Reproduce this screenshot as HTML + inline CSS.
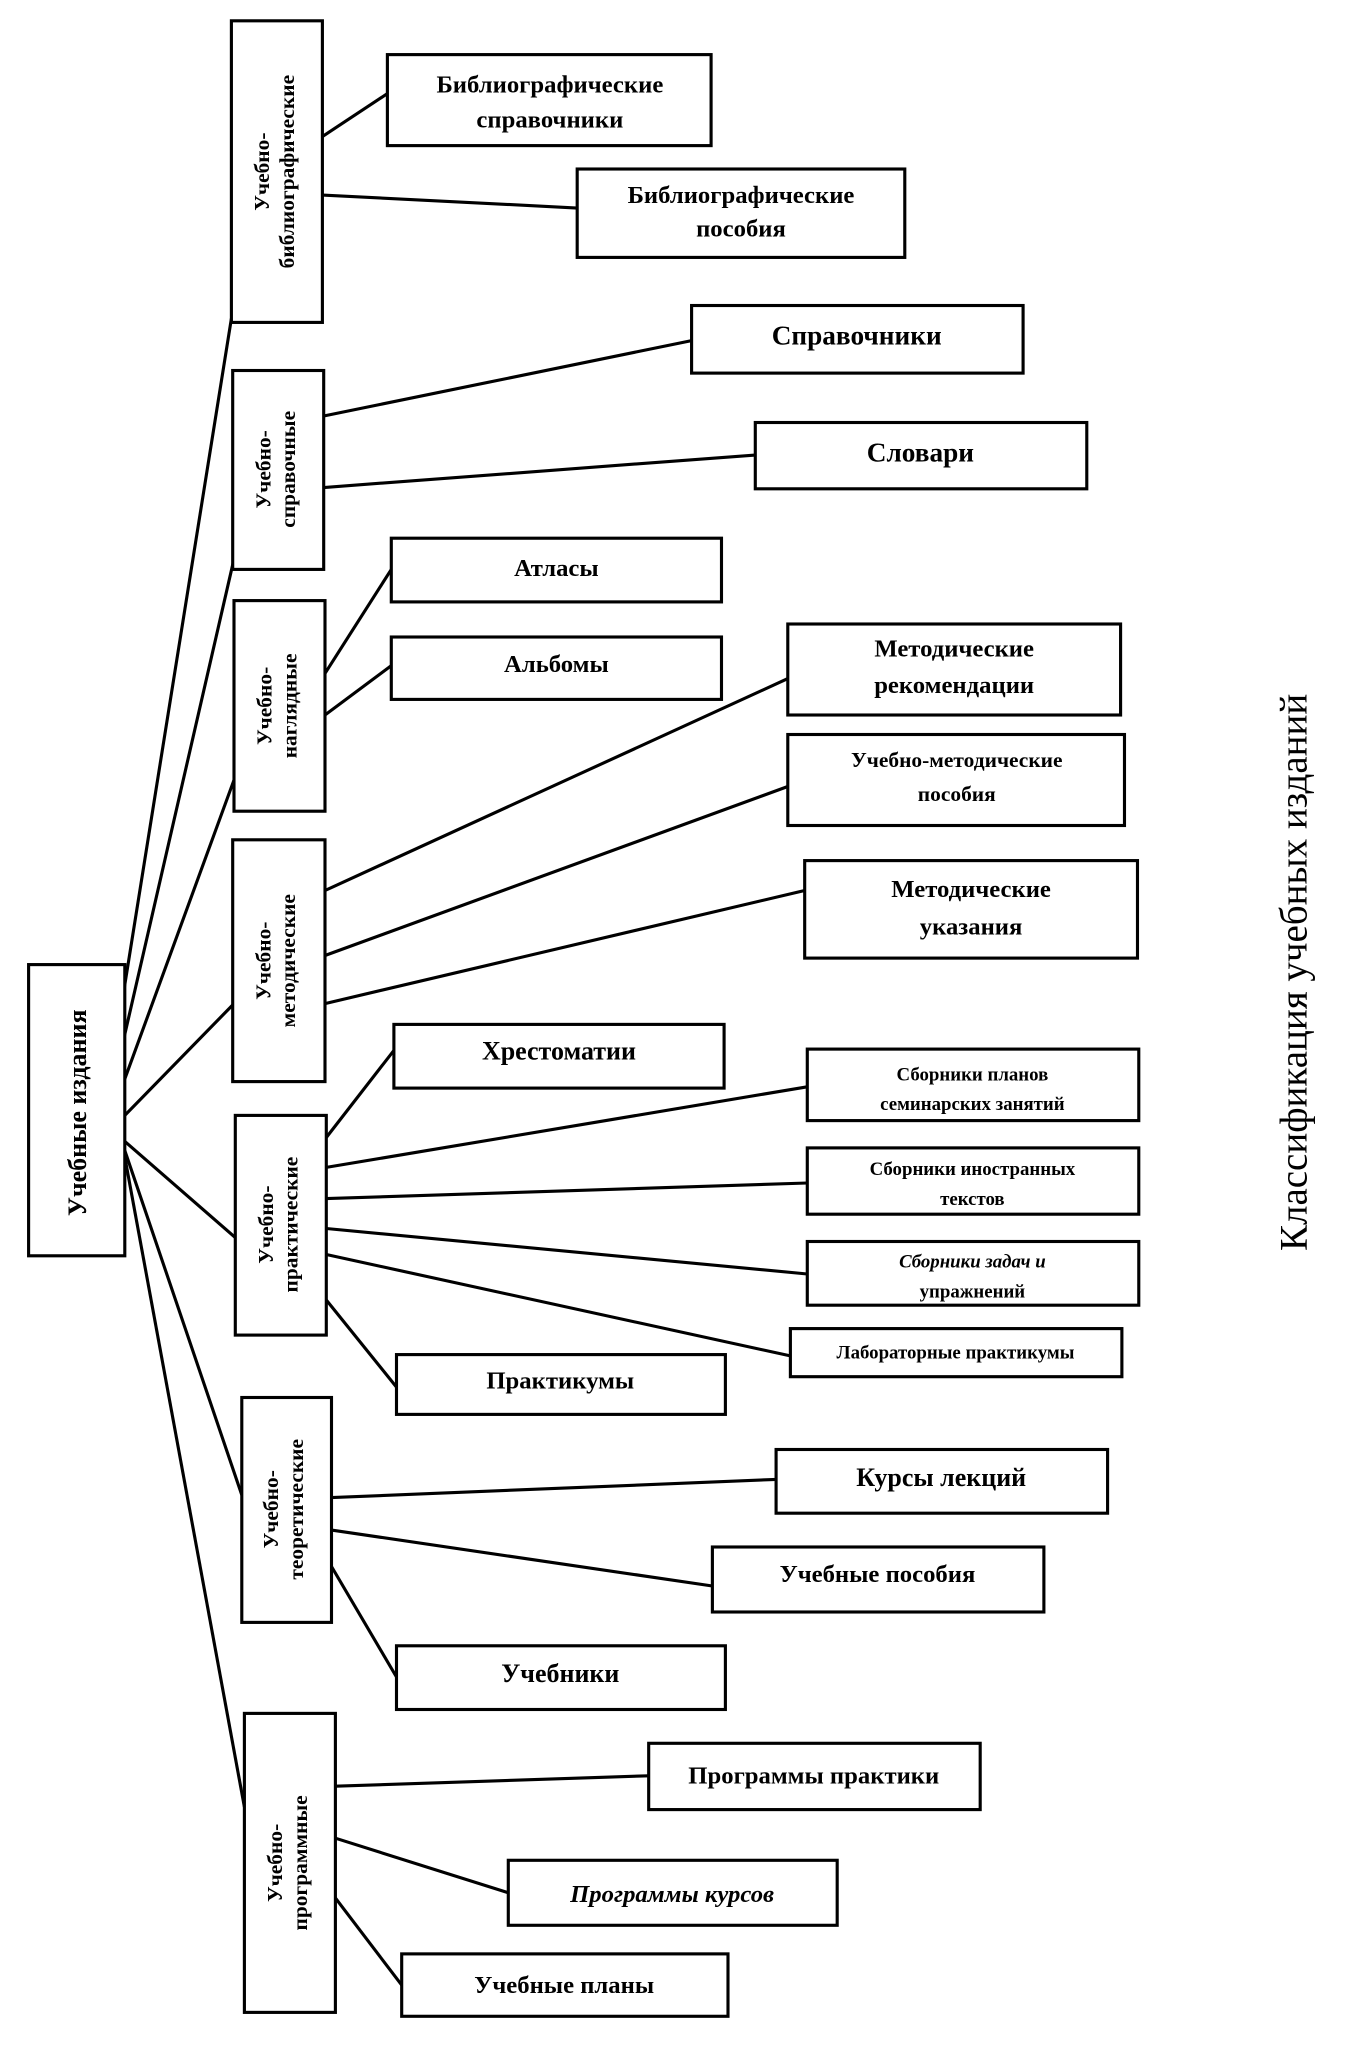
<!DOCTYPE html>
<html><head><meta charset="utf-8"><style>
html,body{margin:0;padding:0;background:#fff;}
svg{display:block;}
text{font-family:"Liberation Serif","DejaVu Serif",serif;font-weight:bold;fill:#000;}
</style></head><body>
<svg width="1359" height="2054" viewBox="0 0 1045.4 1580" xmlns="http://www.w3.org/2000/svg">
<g stroke="#000" stroke-width="2.4" fill="none">
<line x1="94" y1="770" x2="178" y2="245"/>
<line x1="95" y1="800" x2="180" y2="430"/>
<line x1="96" y1="830" x2="180" y2="600"/>
<line x1="96" y1="858" x2="180" y2="772"/>
<line x1="96" y1="878" x2="181" y2="952"/>
<line x1="96" y1="885" x2="186" y2="1150"/>
<line x1="96" y1="890" x2="188" y2="1390"/>
<line x1="248" y1="105" x2="298" y2="72"/>
<line x1="248" y1="150" x2="444" y2="160"/>
<line x1="249" y1="320" x2="532" y2="262"/>
<line x1="249" y1="375" x2="581" y2="350"/>
<line x1="250" y1="518" x2="301" y2="438"/>
<line x1="250" y1="550" x2="301" y2="512"/>
<line x1="250" y1="685" x2="606" y2="522"/>
<line x1="250" y1="735" x2="606" y2="605"/>
<line x1="250" y1="772" x2="619" y2="685"/>
<line x1="251" y1="875" x2="303" y2="808"/>
<line x1="251" y1="898" x2="621" y2="836"/>
<line x1="251" y1="922" x2="621" y2="910"/>
<line x1="251" y1="945" x2="621" y2="980"/>
<line x1="251" y1="965" x2="608" y2="1043"/>
<line x1="251" y1="1000" x2="305" y2="1067"/>
<line x1="255" y1="1152" x2="597" y2="1138"/>
<line x1="255" y1="1177" x2="548" y2="1220"/>
<line x1="255" y1="1205" x2="305" y2="1290"/>
<line x1="258" y1="1374" x2="499" y2="1366"/>
<line x1="258" y1="1414" x2="391" y2="1456"/>
<line x1="258" y1="1460" x2="309" y2="1527"/>
</g>
<g stroke="#000" stroke-width="2.4" fill="#fff">
<rect x="22" y="742" width="74" height="224"/>
<rect x="178" y="16" width="70" height="232"/>
<rect x="179" y="285" width="70" height="153"/>
<rect x="180" y="462" width="70" height="162"/>
<rect x="179" y="646" width="71" height="186"/>
<rect x="181" y="858" width="70" height="169"/>
<rect x="186" y="1075" width="69" height="173"/>
<rect x="188" y="1318" width="70" height="230"/>
<rect x="298" y="42" width="249" height="70"/>
<rect x="444" y="130" width="252" height="68"/>
<rect x="532" y="235" width="255" height="52"/>
<rect x="581" y="325" width="255" height="51"/>
<rect x="301" y="414" width="254" height="49"/>
<rect x="301" y="490" width="254" height="48"/>
<rect x="606" y="480" width="256" height="70"/>
<rect x="606" y="565" width="259" height="70"/>
<rect x="619" y="662" width="256" height="75"/>
<rect x="303" y="788" width="254" height="49"/>
<rect x="621" y="807" width="255" height="55"/>
<rect x="621" y="883" width="255" height="51"/>
<rect x="621" y="955" width="255" height="49"/>
<rect x="608" y="1022" width="255" height="37"/>
<rect x="305" y="1042" width="253" height="46"/>
<rect x="597" y="1115" width="255" height="49"/>
<rect x="548" y="1190" width="255" height="50"/>
<rect x="305" y="1266" width="253" height="49"/>
<rect x="499" y="1341" width="255" height="51"/>
<rect x="391" y="1431" width="253" height="50"/>
<rect x="309" y="1503" width="251" height="48"/>
</g>
<g font-size="19" text-anchor="middle">
<text transform="translate(59,856) rotate(-90)" y="7" font-size="20">Учебные издания</text>
<g font-size="16.5">
<text transform="translate(213,132) rotate(-90)"><tspan x="0" y="-6">Учебно-</tspan><tspan x="0" y="13">библиографические</tspan></text>
<text transform="translate(214,361) rotate(-90)"><tspan x="0" y="-6">Учебно-</tspan><tspan x="0" y="13">справочные</tspan></text>
<text transform="translate(215,543) rotate(-90)"><tspan x="0" y="-6">Учебно-</tspan><tspan x="0" y="13">наглядные</tspan></text>
<text transform="translate(214,739) rotate(-90)"><tspan x="0" y="-6">Учебно-</tspan><tspan x="0" y="13">методические</tspan></text>
<text transform="translate(216,942) rotate(-90)"><tspan x="0" y="-6">Учебно-</tspan><tspan x="0" y="13">практические</tspan></text>
<text transform="translate(220,1161) rotate(-90)"><tspan x="0" y="-6">Учебно-</tspan><tspan x="0" y="13">теоретические</tspan></text>
<text transform="translate(223,1433) rotate(-90)"><tspan x="0" y="-6">Учебно-</tspan><tspan x="0" y="13">программные</tspan></text>
</g>
<text x="423" y="71">Библиографические</text><text x="423" y="98">справочники</text>
<text x="570" y="156">Библиографические</text><text x="570" y="182">пособия</text>
<text x="659" y="265" font-size="21">Справочники</text>
<text x="708" y="355" font-size="21">Словари</text>
<text x="428" y="443">Атласы</text>
<text x="428" y="517">Альбомы</text>
<text x="734" y="505">Методические</text><text x="734" y="533">рекомендации</text>
<text x="736" y="590" font-size="16.5">Учебно-методические</text><text x="736" y="616" font-size="16.5">пособия</text>
<text x="747" y="690">Методические</text><text x="747" y="719">указания</text>
<text x="430" y="815" font-size="20">Хрестоматии</text>
<g font-size="14.5">
<text x="748" y="831">Сборники планов</text><text x="748" y="854">семинарских занятий</text>
<text x="748" y="904">Сборники иностранных</text><text x="748" y="927">текстов</text>
<text x="748" y="975" font-style="italic">Сборники задач и</text><text x="748" y="998">упражнений</text>
<text x="735" y="1045">Лабораторные практикумы</text>
</g>
<text x="431" y="1068">Практикумы</text>
<text x="724" y="1143" font-size="20">Курсы лекций</text>
<text x="675" y="1217">Учебные пособия</text>
<text x="431" y="1294" font-size="20">Учебники</text>
<text x="626" y="1372">Программы практики</text>
<text x="517" y="1463" font-style="italic">Программы курсов</text>
<text x="434" y="1533">Учебные планы</text>
<text transform="translate(1005,748) rotate(-90)" font-size="30" style="font-weight:normal">Классификация учебных изданий</text>
</g>
</svg>
</body></html>
